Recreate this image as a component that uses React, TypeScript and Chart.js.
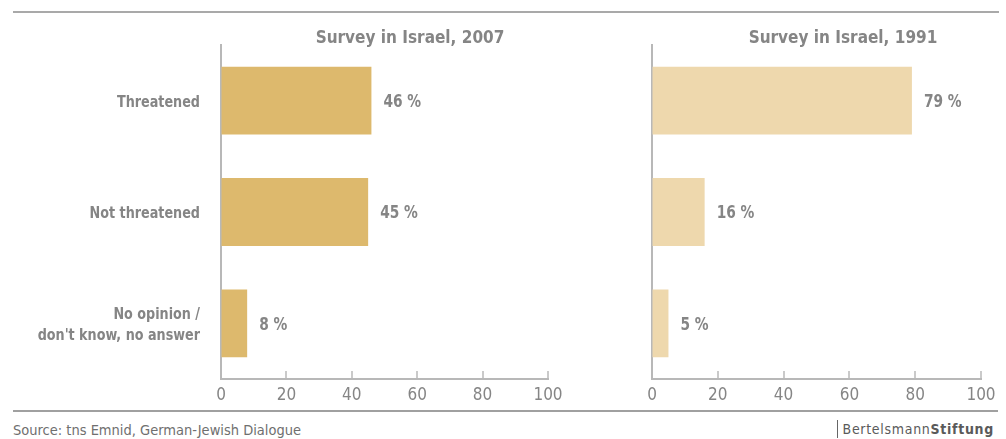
import { useEffect, useRef } from 'react';
import { Chart, registerables } from 'chart.js';

Chart.register(...registerables);

const FONT = '"Liberation Sans Narrow", "DejaVu Sans Condensed", "Arial Narrow", sans-serif';

const categories: (string | string[])[] = [
  'Threatened',
  'Not threatened',
  ['No opinion /', "don't know, no answer"],
];
const values2007 = [46, 45, 8];
const values1991 = [79, 16, 5];
const xTickValues = [0, 20, 40, 60, 80, 100];
const panelTitles = ['Survey in Israel, 2007', 'Survey in Israel, 1991'];
const sourceText = 'Source: tns Emnid, German-Jewish Dialogue';

const TEXT_GRAY = '#858585';
const AXIS_GRAY = '#b8b8b8';
const COLOR_2007 = '#ddb96d';
const COLOR_1991 = '#eed8ad';

const tickMarks = {
  id: 'tickMarks',
  afterDraw(chart: any) {
    const x = chart.scales.x;
    const ctx = chart.ctx;
    ctx.save();
    ctx.strokeStyle = AXIS_GRAY;
    ctx.lineWidth = 1.5;
    xTickValues.forEach((v) => {
      if (v === 0) return;
      const px = Math.round(x.getPixelForValue(v));
      ctx.beginPath();
      ctx.moveTo(px, x.top - 8);
      ctx.lineTo(px, x.top);
      ctx.stroke();
    });
    ctx.restore();
  },
};

const categoryLabels = {
  id: 'categoryLabels',
  afterDraw(chart: any) {
    if (!chart.options.plugins.categoryLabels?.show) return;
    const y = chart.scales.y;
    const ctx = chart.ctx;
    const lh = 21.5;
    categories.forEach((c, i) => {
      const lines = Array.isArray(c) ? c : [c];
      const cy = y.getPixelForValue(i) + 2;
      const start = cy - ((lines.length - 1) * lh) / 2;
      lines.forEach((ln, j) => {
        ctx.save();
        ctx.font = `bold 16.5px ${FONT}`;
        ctx.fillStyle = TEXT_GRAY;
        ctx.textAlign = 'right';
        ctx.textBaseline = 'middle';
        ctx.translate(y.right - 21, start + j * lh);
        ctx.scale(0.86, 1);
        ctx.fillText(ln, 0, 0);
        ctx.restore();
      });
    });
  },
};

const valueLabels = {
  id: 'valueLabels',
  afterDatasetsDraw(chart: any) {
    const ctx = chart.ctx;
    const meta = chart.getDatasetMeta(0);
    const data = chart.data.datasets[0].data as number[];
    meta.data.forEach((bar: any, i: number) => {
      ctx.save();
      ctx.font = `bold 17px ${FONT}`;
      ctx.fillStyle = TEXT_GRAY;
      ctx.textAlign = 'left';
      ctx.textBaseline = 'middle';
      ctx.translate(bar.x + 12, bar.y + 2);
      ctx.scale(0.9, 1);
      ctx.fillText(`${data[i]} %`, 0, 0);
      ctx.restore();
    });
  },
};

function makeConfig(values: number[], color: string, showLabels: boolean, yWidth: number, padRight: number): any {
  return {
    type: 'bar',
    data: {
      labels: categories,
      datasets: [
        {
          data: values,
          backgroundColor: color,
          borderWidth: 0,
          barPercentage: 0.61,
          categoryPercentage: 1,
        },
      ],
    },
    plugins: [tickMarks, valueLabels, categoryLabels],
    options: {
      indexAxis: 'y',
      animation: false,
      responsive: false,
      maintainAspectRatio: false,
      layout: { padding: { top: 45, right: padRight, bottom: 0, left: 0 } },
      plugins: {
        legend: { display: false },
        tooltip: { enabled: false },
        title: { display: false },
        categoryLabels: { show: showLabels },
      },
      scales: {
        x: {
          min: 0,
          max: 100,
          afterFit: (s: any) => {
            s.height = 30;
          },
          afterBuildTicks: (s: any) => {
            s.ticks = xTickValues.map((v) => ({ value: v }));
          },
          ticks: {
            color: TEXT_GRAY,
            font: { family: FONT, size: 17 },
            padding: 6,
            maxRotation: 0,
          },
          grid: { drawOnChartArea: false, drawTicks: false },
          border: { display: true, color: AXIS_GRAY, width: 2 },
        },
        y: {
          afterFit: (s: any) => {
            s.width = yWidth;
          },
          ticks: { display: false },
          grid: { display: false, drawTicks: false },
          border: { display: true, color: AXIS_GRAY, width: 2 },
        },
      },
    },
  };
}

function Panel(props: { left: number; width: number; values: number[]; color: string; showLabels: boolean; yWidth: number; padRight: number }) {
  const ref = useRef<HTMLCanvasElement | null>(null);
  useEffect(() => {
    if (!ref.current) return;
    const chart = new Chart(ref.current, makeConfig(props.values, props.color, props.showLabels, props.yWidth, props.padRight));
    return () => chart.destroy();
  }, []);
  return (
    <canvas
      ref={ref}
      width={props.width}
      height={409}
      style={{ position: 'absolute', left: props.left, top: 0, width: props.width, height: 409 }}
    />
  );
}

export default function App() {
  useEffect(() => {
    document.body.style.margin = '0';
  }, []);
  const titleStyle = (cx: number): any => ({
    position: 'absolute',
    left: cx - 150,
    width: 300,
    top: 24,
    textAlign: 'center',
    fontFamily: FONT,
    fontWeight: 'bold',
    fontSize: 18.5,
    color: TEXT_GRAY,
    lineHeight: '26px',
    transform: 'scaleX(0.92)',
  });
  return (
    <div style={{ position: 'relative', width: 1006, height: 439, overflow: 'hidden', background: '#fff', fontFamily: FONT }}>
      <div style={{ position: 'absolute', left: 13, top: 11, width: 986, height: 2, background: '#a9a9a9' }} />
      <Panel left={0} width={570} values={values2007} color={COLOR_2007} showLabels={true} yWidth={221} padRight={22} />
      <Panel left={600} width={406} values={values1991} color={COLOR_1991} showLabels={false} yWidth={52} padRight={25} />
      <div style={titleStyle(410)}>{panelTitles[0]}</div>
      <div style={titleStyle(843)}>{panelTitles[1]}</div>
      <div style={{ position: 'absolute', left: 13, top: 410, width: 985, height: 1.5, background: '#a0a0a0' }} />
      <div style={{ position: 'absolute', left: 13, top: 421, fontSize: 14.5, color: '#6f6f6f', lineHeight: '18px' }}>{sourceText}</div>
      <div
        style={{
          position: 'absolute',
          right: 12,
          top: 420,
          fontSize: 14,
          color: '#5a5a5a',
          lineHeight: '18px',
          letterSpacing: '0.7px',
          borderLeft: '1.5px solid #666',
          paddingLeft: 5,
        }}
      >
        Bertelsmann<b>Stiftung</b>
      </div>
    </div>
  );
}
